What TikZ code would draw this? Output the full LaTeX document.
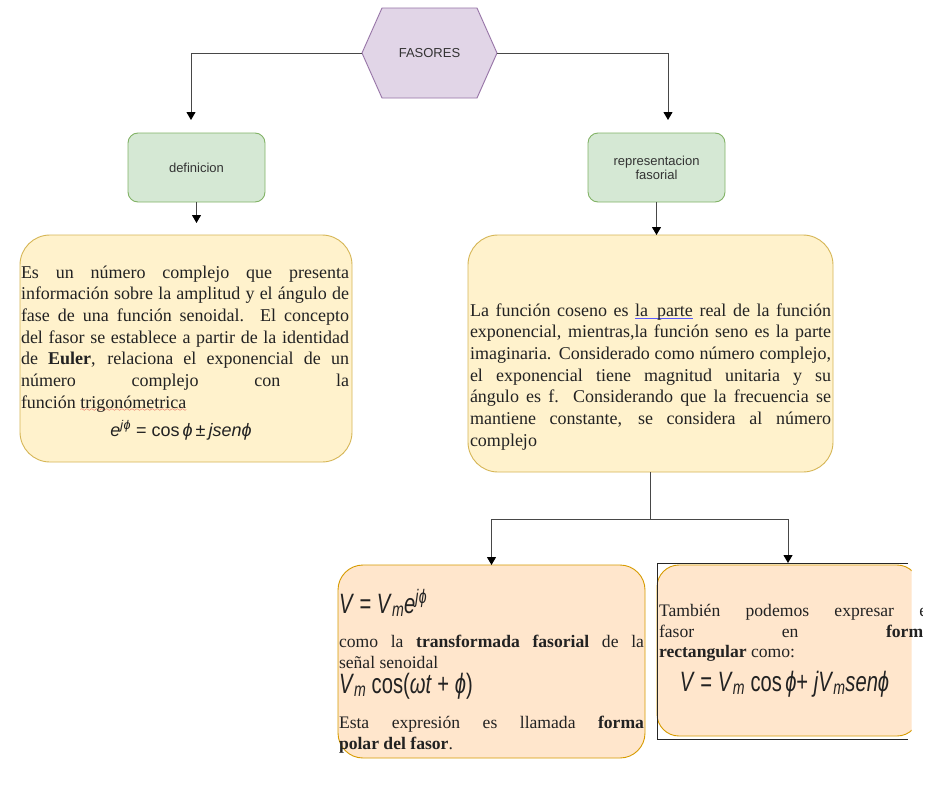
\documentclass[tikz,border=0pt]{standalone}
\usepackage{fontspec}
\setmainfont{Liberation Serif}
\newfontfamily\labelfont{Liberation Sans}
\newfontfamily\eqfont{Liberation Sans}
\usetikzlibrary{arrows.meta,backgrounds}

\definecolor{hexfill}{HTML}{E1D5E7}
\definecolor{hexline}{HTML}{9673A6}
\definecolor{greenfill}{HTML}{D5E8D4}
\definecolor{greenline}{HTML}{82B366}
\definecolor{yelfill}{HTML}{FFF2CC}
\definecolor{yelline}{HTML}{D6B656}
\definecolor{orafill}{HTML}{FFE6CC}
\definecolor{oraline}{HTML}{D79B00}
\definecolor{labeltext}{HTML}{333333}
\definecolor{bodytext}{HTML}{222222}

% spell-check style marks under words
\font\wavyfont=lasy6
\newsavebox\markbox
\newcommand\redwave[1]{\sbox\markbox{#1}%
  \rlap{\raisebox{-3.5pt}{\textcolor{red!85!black}{\hbox to \wd\markbox{\wavyfont\xleaders\hbox{\char58}\hfil}}}}%
  \usebox\markbox}
\newcommand\blueul[1]{\sbox\markbox{#1}%
  \rlap{\textcolor{blue!65}{\rule[-3pt]{\wd\markbox}{1pt}}}\usebox\markbox}

\newcommand\bodyfont{\fontsize{18}{21.7}\selectfont}
\newcommand\smallbody{\fontsize{17.6}{20.8}\selectfont}
\newcommand\bigeq[1]{\scalebox{0.72}[1]{\eqfont\fontsize{28}{28}\selectfont #1}}

\tikzset{
  every node/.style={outer sep=0pt},
  line/.style={draw=black!72, line width=1pt},
  conn/.style={line, -{Triangle[width=9pt,length=8pt,color=black]}},
  hexstyle/.style={fill=hexfill, draw=hexline, line width=0.9pt},
  greenbox/.style={fill=greenfill, draw=greenline, line width=0.9pt, rounded corners=10pt,
    inner sep=0pt, align=center, text=labeltext,
    font=\labelfont\fontsize{13}{15}\selectfont},
  yelbox/.style={fill=yelfill, draw=yelline, line width=0.9pt, rounded corners=30pt, inner sep=0pt},
  orabox/.style={fill=orafill, draw=oraline, line width=0.9pt, rounded corners=25pt, inner sep=0pt},
  para/.style={anchor=north west, inner sep=0pt, align=justify, text=bodytext},
  eqnode/.style={inner sep=0pt, text=bodytext},
}

\begin{document}
\begin{tikzpicture}[x=1pt,y=-1pt]
\useasboundingbox (0,0) rectangle (931,787);
\begin{scope}[on background layer]
  \fill[white] (0,0) rectangle (931,787);
\end{scope}

% title hexagon
\node[minimum width=135pt, minimum height=90pt, inner sep=0pt, text=labeltext,
      font=\labelfont\fontsize{13}{15}\selectfont] (hex) at (429.5,53) {FASORES};
\begin{scope}[on background layer]
  \filldraw[hexstyle] (hex.west) -- ([xshift=20pt]hex.north west)
    -- ([xshift=-20pt]hex.north east) -- (hex.east)
    -- ([xshift=-20pt]hex.south east) -- ([xshift=20pt]hex.south west) -- cycle;
\end{scope}

% second level
\node[greenbox, minimum width=137pt, minimum height=69pt] (defn) at (196.5,167.5) {definicion};
\node[greenbox, minimum width=137pt, minimum height=69pt] (rep) at (656.5,167.5)
  {representacion\\[-1pt]fasorial};

% text boxes
\node[yelbox, minimum width=332pt, minimum height=227pt] (ydef) at (186,348.5) {};
\node[yelbox, minimum width=365pt, minimum height=237pt] (yrep) at (650.5,353.5) {};
\node[orabox, minimum width=307pt, minimum height=193pt] (opol) at (491.5,661.5) {};

% framed box on the right, partly cut off
\coordinate (frameTL) at (657,563);
\coordinate (frameTR) at (908,563);
\coordinate (frameBL) at (657,739);
\coordinate (frameBR) at (908,739);
\begin{scope}
  \clip (0,0) rectangle (911.5,787);
  \node[orabox, rounded corners=22pt, minimum width=262pt, minimum height=171pt] (orect) at (788,650.5) {};
\end{scope}
\draw[line, draw=black!85] (frameTR) -- (frameTL) -- (frameBL) -- (frameBR);

% connectors
\coordinate (tipL) at (191,120);
\coordinate (tipR) at (668,120);
\draw[conn] (hex.west) -| (tipL);
\draw[conn] (hex.east) -| (tipR);
\draw[conn] (defn.south) -- ++(0,21);
\draw[conn] (rep.south) -- (rep.south |- yrep.north);
\coordinate (split) at (650.5,519);
\coordinate (tipB) at (788,563);
\draw[line] (yrep.south) -- (split);
\draw[conn] (split) -| (opol.north);
\draw[conn] (split) -| (tipB);

% texts
\node[para, text width=328pt, font=\bodyfont] (tdef) at (21,265.5) {%
Es un número complejo que presenta\linebreak
información sobre la amplitud y el ángulo de\linebreak
fase de una función senoidal.\ \ El concepto\linebreak
del fasor se establece a partir de la identidad\linebreak
de \textbf{Euler}, relaciona el exponencial de un\linebreak
número complejo con la\linebreak
función \redwave{trigonómetrica}};
\node[eqnode, anchor=base] (eqdef) at (181,436)
  {\eqfont\fontsize{18}{18}\selectfont\textit{e}\textsuperscript{\textit{j\kern0.5pt ϕ}} = cos\,\textit{ϕ}\,±\,\textit{jsenϕ}};

\node[para, text width=361pt, font=\bodyfont] (trep) at (470,303.5) {%
La función coseno es \blueul{la\ \ parte} real de la función\linebreak
exponencial, mientras,la función seno es la parte\linebreak
imaginaria. Considerado como número complejo,\linebreak
el exponencial tiene magnitud unitaria y su\linebreak
ángulo es f. Considerando que la frecuencia se\linebreak
mantiene constante, se considera al número\linebreak
complejo};

\node[eqnode, anchor=base west] (eqpol) at (339,613)
  {\bigeq{\textit{V} = \textit{V}\textsubscript{\textit{m}}\textit{e}\textsuperscript{\textit{j\kern0.5pt ϕ}}}};
\node[para, text width=305pt, font=\smallbody] (tpol) at (339,635.5) {%
como la \textbf{transformada fasorial} de la\linebreak
señal senoidal};
\node[eqnode, anchor=base west] (eqcos) at (339,693)
  {\bigeq{\textit{V}\textsubscript{\textit{m}} cos(\textit{ωt} + \textit{ϕ})}};
\node[para, text width=305pt, font=\smallbody] (tpol2) at (339,716) {%
Esta expresión es llamada \textbf{forma}\linebreak
\textbf{polar del fasor}.};

\begin{scope}
  \clip (0,0) rectangle (922,787);
  \node[para, text width=273pt, font=\smallbody] (trect) at (659,604) {%
  También podemos expresar el\linebreak
  fasor en \textbf{forma}\linebreak
  \textbf{rectangular} como:};
\end{scope}
\node[eqnode, anchor=base] (eqrect) at (784.5,691)
  {\bigeq{\textit{V} = \textit{V}\textsubscript{\textit{m}} cos\,\textit{ϕ}+ \textit{jV}\textsubscript{\textit{m}}\textit{senϕ}}};
\end{tikzpicture}
\end{document}
